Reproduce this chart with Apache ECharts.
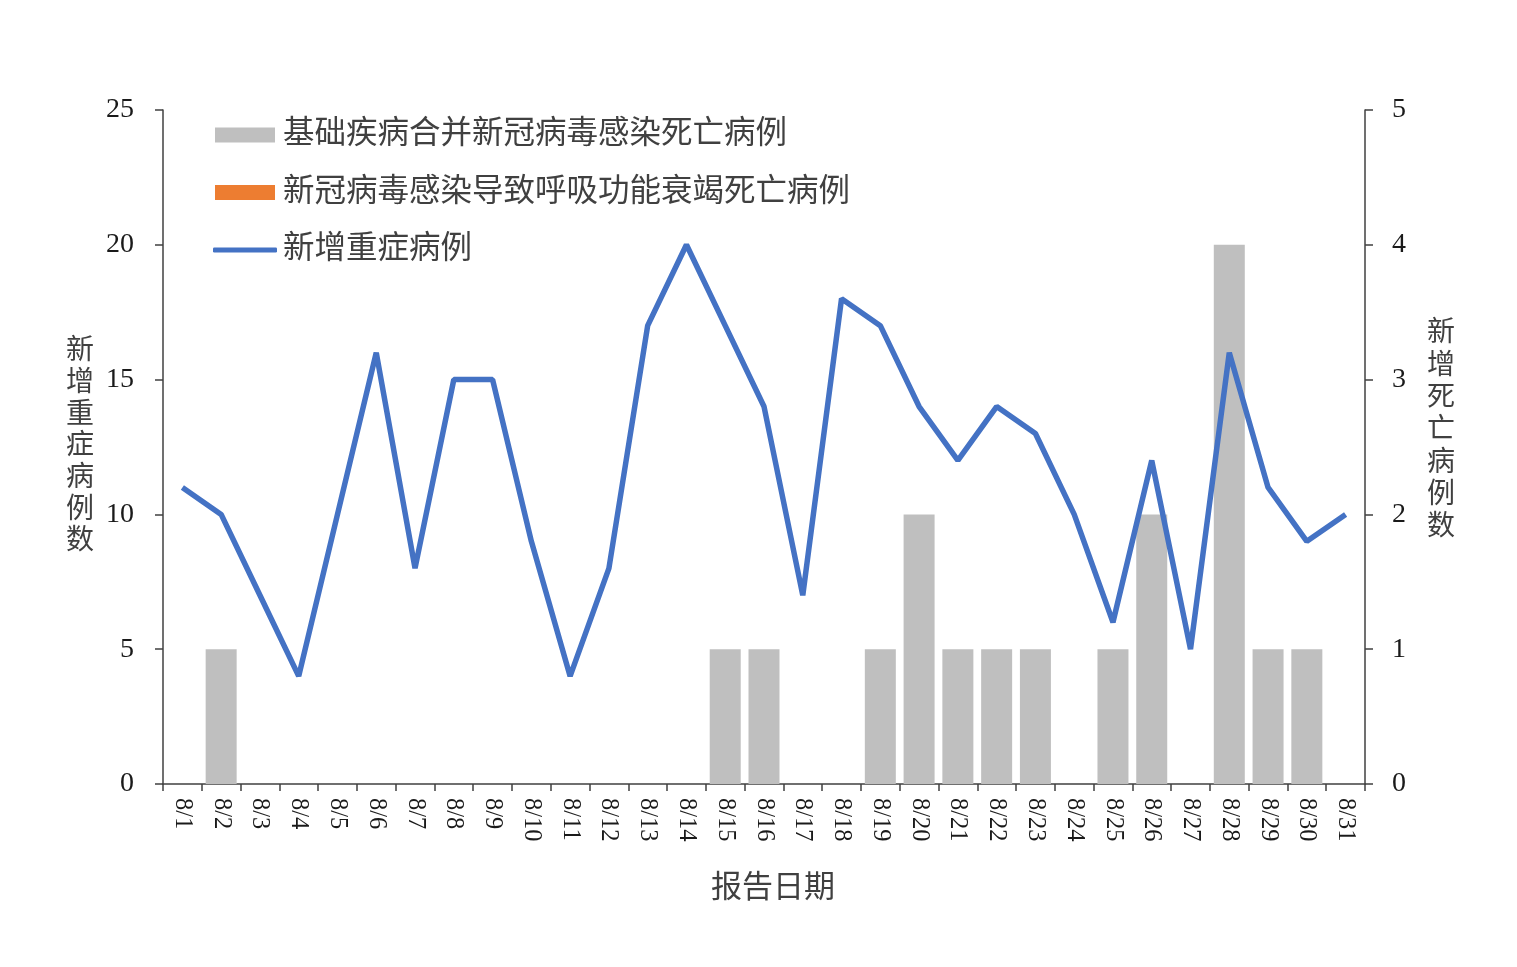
<!DOCTYPE html>
<html>
<head>
<meta charset="utf-8">
<title>新增重症与死亡病例</title>
<script src="https://cdn.jsdelivr.net/npm/echarts@6/dist/echarts.min.js"></script>
<style>
  html, body { margin: 0; padding: 0; background: #fff; }
  #chart { width: 1517px; height: 967px; }
</style>
</head>
<body>
<div id="chart"></div>
<script>
// 报告日期
const dates = [
  "8/1", "8/2", "8/3", "8/4", "8/5", "8/6", "8/7", "8/8", "8/9", "8/10",
  "8/11", "8/12", "8/13", "8/14", "8/15", "8/16", "8/17", "8/18", "8/19", "8/20",
  "8/21", "8/22", "8/23", "8/24", "8/25", "8/26", "8/27", "8/28", "8/29", "8/30", "8/31"
];
// 新增重症病例 (左轴)
const severeCases = [
  11, 10, 7, 4, 10, 16, 8, 15, 15, 9,
  4, 8, 17, 20, 17, 14, 7, 18, 17, 14,
  12, 14, 13, 10, 6, 12, 5, 16, 11, 9, 10
];
// 基础疾病合并新冠病毒感染死亡病例 (右轴)
const deathsComorbid = [
  0, 1, 0, 0, 0, 0, 0, 0, 0, 0,
  0, 0, 0, 0, 1, 1, 0, 0, 1, 2,
  1, 1, 1, 0, 1, 2, 0, 4, 1, 1, 0
];
// 新冠病毒感染导致呼吸功能衰竭死亡病例 (右轴)
const deathsRespiratory = [
  0, 0, 0, 0, 0, 0, 0, 0, 0, 0,
  0, 0, 0, 0, 0, 0, 0, 0, 0, 0,
  0, 0, 0, 0, 0, 0, 0, 0, 0, 0, 0
];
const seriesNames = [
  "基础疾病合并新冠病毒感染死亡病例",
  "新冠病毒感染导致呼吸功能衰竭死亡病例",
  "新增重症病例"
];

const FONT = "'Liberation Serif', 'Noto Sans CJK SC', serif";
const axisColor = "#404040";
const textColor = "#404040";

const legendText = {
  fontFamily: FONT, fontSize: 31.5, color: textColor, lineHeight: 32,
  padding: [0, 0, 0, 3]
};

const myChart = echarts.init(document.getElementById("chart"));

const option = {
  backgroundColor: "#fff",
  animation: false,
  textStyle: { fontFamily: FONT },
  grid: { left: 163, right: 152, top: 110, bottom: 183 },
  legend: [
    {
      orient: "vertical",
      left: 215,
      top: 119,
      padding: 0,
      icon: "rect",
      itemWidth: 60,
      itemHeight: 15,
      itemGap: 25.5,
      data: seriesNames.slice(0, 2),
      textStyle: legendText
    },
    {
      orient: "vertical",
      left: 213,
      top: 234,
      padding: 0,
      icon: "roundRect",
      itemWidth: 64,
      itemHeight: 5,
      data: seriesNames.slice(2),
      textStyle: Object.assign({}, legendText, { padding: [0, 0, 0, 1] })
    }
  ],
  xAxis: {
    type: "category",
    data: dates,
    name: "报告日期",
    nameLocation: "middle",
    nameGap: 89,
    nameTextStyle: { fontFamily: FONT, fontSize: 31, color: textColor, padding: [0, 0, 0, 18] },
    axisLine: { lineStyle: { color: axisColor, width: 1.5 } },
    axisTick: { show: true, length: 7, lineStyle: { color: axisColor, width: 1.5 } },
    axisLabel: { rotate: -90, margin: 14, fontSize: 24.5, color: "#1a1a1a", fontFamily: FONT, interval: 0 }
  },
  yAxis: [
    {
      type: "value",
      min: 0,
      max: 25,
      interval: 5,
      name: "新\n增\n重\n症\n病\n例\n数",
      nameLocation: "middle",
      nameRotate: 0,
      nameGap: 69,
      nameTextStyle: { fontFamily: FONT, fontSize: 28, color: textColor, lineHeight: 31.7 },
      axisLine: { show: true, lineStyle: { color: axisColor, width: 1.5 } },
      axisTick: { show: true, length: 8, lineStyle: { color: axisColor, width: 1.5 } },
      axisLabel: { margin: 29, fontSize: 28, color: "#1a1a1a", fontFamily: FONT },
      splitLine: { show: false }
    },
    {
      type: "value",
      min: 0,
      max: 5,
      interval: 1,
      position: "right",
      // trailing blank line lifts the column, as in the source figure
      name: "新\n增\n死\n亡\n病\n例\n数\n ",
      nameLocation: "middle",
      nameRotate: 0,
      nameGap: 62,
      nameTextStyle: { fontFamily: FONT, fontSize: 28, color: textColor, lineHeight: 32.3 },
      axisLine: { show: true, lineStyle: { color: axisColor, width: 1.5 } },
      axisTick: { show: true, length: 8, lineStyle: { color: axisColor, width: 1.5 } },
      axisLabel: { margin: 27, fontSize: 28, color: "#1a1a1a", fontFamily: FONT },
      splitLine: { show: false }
    }
  ],
  series: [
    {
      name: seriesNames[0],
      type: "bar",
      yAxisIndex: 1,
      stack: "deaths",
      barWidth: 31,
      itemStyle: { color: "#BFBFBF" },
      data: deathsComorbid
    },
    {
      name: seriesNames[1],
      type: "bar",
      yAxisIndex: 1,
      stack: "deaths",
      barWidth: 31,
      itemStyle: { color: "#ED7D31" },
      data: deathsRespiratory
    },
    {
      name: seriesNames[2],
      type: "line",
      yAxisIndex: 0,
      showSymbol: false,
      symbol: "none",
      z: 5,
      lineStyle: { color: "#4472C4", width: 5.5 },
      itemStyle: { color: "#4472C4" },
      data: severeCases
    }
  ]
};

myChart.setOption(option);
</script>
</body>
</html>
